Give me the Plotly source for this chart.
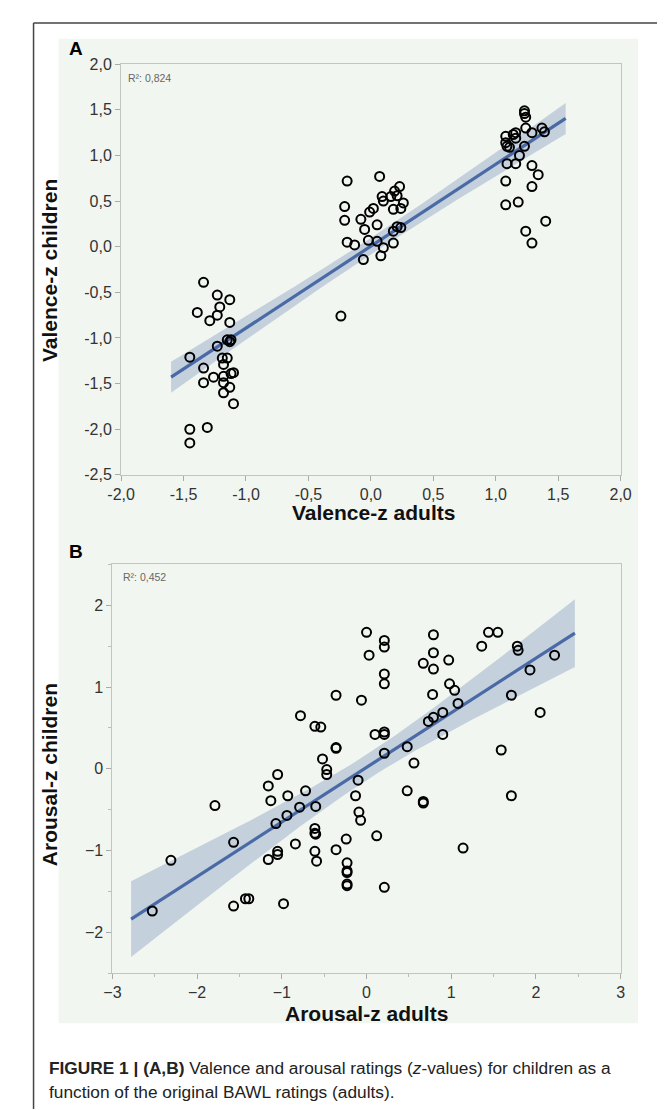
import numpy as np
import plotly.graph_objects as go

# ---------------- data ----------------
valence_adults = [
    -1.34, -1.23, -1.13, -1.21, -1.39, -1.23, -1.29, -1.13, -1.23, -1.15, -1.12, -1.13,
    -1.45, -1.19, -1.15, -1.18, -1.34, -1.26, -1.18, -1.12, -1.10, -1.34, -1.18, -1.13,
    -1.18, -1.10, -1.45, -1.31, -1.45,
    -0.19, 0.07, -0.21, -0.21, -0.08, -0.05, -0.01, 0.02, 0.05, 0.09, 0.10, 0.16, 0.19,
    0.21, 0.23, 0.26, 0.18, 0.24, 0.18, 0.21, 0.24, -0.19, -0.13, -0.02, 0.05, 0.10, 0.18,
    -0.06, 0.08, -0.24,
    1.23, 1.23, 1.24, 1.24, 1.16, 1.14, 1.08, 1.37, 1.39, 1.29, 1.08, 1.16, 1.09, 1.11,
    1.23, 1.19, 1.09, 1.16, 1.29, 1.34, 1.08, 1.29, 1.08, 1.18, 1.40, 1.24, 1.29,
]
valence_children = [
    -0.39, -0.53, -0.58, -0.66, -0.72, -0.75, -0.81, -0.83, -1.09, -1.02, -1.02, -1.04,
    -1.21, -1.22, -1.22, -1.29, -1.33, -1.43, -1.42, -1.39, -1.38, -1.49, -1.49, -1.54,
    -1.60, -1.72, -2.00, -1.98, -2.15,
    0.72, 0.77, 0.44, 0.29, 0.30, 0.19, 0.38, 0.42, 0.24, 0.55, 0.50, 0.55, 0.61,
    0.56, 0.66, 0.48, 0.41, 0.42, 0.17, 0.22, 0.21, 0.05, 0.02, 0.07, 0.06, -0.01, 0.04,
    -0.14, -0.10, -0.76,
    1.49, 1.46, 1.42, 1.30, 1.25, 1.23, 1.21, 1.30, 1.26, 1.25, 1.14, 1.19, 1.10, 1.09,
    1.10, 1.00, 0.91, 0.91, 0.89, 0.79, 0.72, 0.66, 0.46, 0.49, 0.28, 0.17, 0.04,
]

arousal_adults = [
    0.00, 0.21, 0.21, 0.03, 0.21, 0.21, -0.36, -0.06, -0.78, -0.61, -0.54, 0.10, 0.21,
    0.21, -0.36, -0.36, 0.21, -0.52, -0.47, -0.47, -1.05, -1.16, -0.10, -0.72, -0.93,
    -1.13, -0.13, -1.79, -0.79, -0.60, -0.94, -1.07, -0.09, -0.07, -0.61, -0.61, -0.60,
    -1.57, -0.84, -0.24, 0.12, -0.36, -0.61, -1.05,
    0.79, 0.79, 0.79, 0.67, 0.97, 0.98, 1.04, 1.08, 0.78, 0.90, 0.79, 0.73, 0.90, 0.48,
    0.56, 0.48, 0.67, 0.67, 1.14, 1.36, 1.44, 1.55, 1.78, 1.79, 1.93, 2.22, 1.71, 2.05,
    1.59, 1.71,
    -2.31, -2.53, -1.57, -1.43, -1.39, -0.98, -1.16, -1.05, -0.59, -0.23, -0.23, -0.23,
    -0.23, -0.23, 0.21,
]
arousal_children = [
    1.67, 1.57, 1.49, 1.39, 1.16, 1.04, 0.90, 0.84, 0.65, 0.52, 0.51, 0.42, 0.45,
    0.42, 0.26, 0.25, 0.19, 0.12, -0.01, -0.07, -0.07, -0.21, -0.14, -0.27, -0.33,
    -0.39, -0.33, -0.45, -0.47, -0.46, -0.57, -0.67, -0.53, -0.63, -0.73, -0.79, -0.80,
    -0.90, -0.92, -0.86, -0.82, -0.99, -1.01, -1.01,
    1.64, 1.42, 1.22, 1.29, 1.33, 1.04, 0.96, 0.80, 0.91, 0.69, 0.63, 0.58, 0.42, 0.27,
    0.07, -0.27, -0.40, -0.42, -0.97, 1.50, 1.67, 1.67, 1.50, 1.45, 1.21, 1.39, 0.90, 0.69,
    0.23, -0.33,
    -1.12, -1.74, -1.68, -1.59, -1.59, -1.65, -1.11, -1.05, -1.13, -1.15, -1.25, -1.27,
    -1.41, -1.43, -1.45,
]

valence_fit_range = [-1.60, 1.56]
arousal_fit_range = [-2.78, 2.46]

valence_r2_label = "R²: 0,824"
arousal_r2_label = "R²: 0,452"

valence_ticks = [-2.0, -1.5, -1.0, -0.5, 0.0, 0.5, 1.0, 1.5, 2.0]
valence_ticktext = ["-2,0", "-1,5", "-1,0", "-0,5", "0,0", "0,5", "1,0", "1,5", "2,0"]
valence_yticks = [-2.5, -2.0, -1.5, -1.0, -0.5, 0.0, 0.5, 1.0, 1.5, 2.0]
valence_yticktext = ["-2,5", "-2,0", "-1,5", "-1,0", "-0,5", "0,0", "0,5", "1,0", "1,5", "2,0"]
arousal_xticks = [-3, -2, -1, 0, 1, 2, 3]
arousal_yticks = [-2, -1, 0, 1, 2]

# ---------------- helpers ----------------
W, H = 665, 1110


def px(x):
    return x / W


def py(y):
    return 1 - y / H


def fit_band(x, y, xr, n=80):
    x = np.asarray(x, float)
    y = np.asarray(y, float)
    b, a = np.polyfit(x, y, 1)
    res = y - (a + b * x)
    k = len(x)
    s = np.sqrt(np.sum(res ** 2) / (k - 2))
    sxx = np.sum((x - x.mean()) ** 2)
    xs = np.linspace(xr[0], xr[1], n)
    ys = a + b * xs
    se = s * np.sqrt(1.0 / k + (xs - x.mean()) ** 2 / sxx)
    t = 1.99
    return xs, ys, ys - t * se, ys + t * se


LINE_C = "#4a6aa6"
BAND_C = "rgba(74,106,166,0.27)"
TICK_FONT = dict(family="Liberation Sans, Arial, sans-serif", size=16, color="#333")
TITLE_FONT = dict(family="Liberation Sans, Arial, sans-serif", size=21, color="#111")

fig = go.Figure()

for (xd, yd, xr, xa, ya) in [
    (valence_adults, valence_children, valence_fit_range, "x", "y"),
    (arousal_adults, arousal_children, arousal_fit_range, "x2", "y2"),
]:
    xs, ys, lo, hi = fit_band(xd, yd, xr)
    fig.add_trace(go.Scatter(x=np.concatenate([xs, xs[::-1]]), y=np.concatenate([hi, lo[::-1]]),
                             fill="toself", fillcolor=BAND_C, line=dict(width=0),
                             mode="lines", hoverinfo="skip", showlegend=False,
                             xaxis=xa, yaxis=ya))
    fig.add_trace(go.Scatter(x=xs, y=ys, mode="lines", line=dict(color=LINE_C, width=3.2),
                             showlegend=False, xaxis=xa, yaxis=ya))
    fig.add_trace(go.Scatter(x=xd, y=yd, mode="markers",
                             marker=dict(symbol="circle-open", size=9, color="#000",
                                         line=dict(width=2, color="#000")),
                             showlegend=False, xaxis=xa, yaxis=ya))

axis_common = dict(showgrid=False, zeroline=False, showline=True, linecolor="#c4c4c4",
                   linewidth=1.2, mirror=True, ticks="outside", ticklen=5, tickcolor="#aaa",
                   tickfont=TICK_FONT)

fig.update_layout(
    width=W, height=H, margin=dict(l=0, r=0, t=0, b=0),
    paper_bgcolor="white", plot_bgcolor="white",
    xaxis=dict(domain=[px(103), px(622)], range=[-2, 2], tickvals=valence_ticks,
               ticktext=valence_ticktext, anchor="y", **axis_common),
    yaxis=dict(domain=[py(466), py(49)], range=[-2.5, 2.0], tickvals=valence_yticks,
               ticktext=valence_yticktext, anchor="x", **axis_common),
    xaxis2=dict(domain=[px(94), px(622)], range=[-3, 3], tickvals=arousal_xticks,
                anchor="y2", minor=dict(ticks="outside", ticklen=3, tickcolor="#bbb", dtick=0.5, tick0=0),
                **axis_common),
    yaxis2=dict(domain=[py(972), py(557)], range=[-2.5, 2.5], tickvals=arousal_yticks,
                anchor="x2", minor=dict(ticks="outside", ticklen=3, tickcolor="#bbb", dtick=0.5, tick0=0),
                **axis_common),
)

shapes = [
    dict(type="rect", xref="paper", yref="paper", x0=px(38), x1=px(640), y0=py(1023), y1=py(23),
         fillcolor="#f2f6f0", line=dict(width=0), layer="below"),
    dict(type="line", xref="paper", yref="paper", x0=px(12), x1=1.0, y0=py(7), y1=py(7),
         line=dict(color="#444", width=1.5)),
    dict(type="line", xref="paper", yref="paper", x0=px(12), x1=px(12), y0=py(7), y1=0,
         line=dict(color="#444", width=1.5)),
]
fig.update_layout(shapes=shapes)

ann = []


def add_text(text, x, y, font, xanchor="center", yanchor="middle", angle=0):
    ann.append(dict(text=text, x=px(x), y=py(y), xref="paper", yref="paper", showarrow=False,
                    xanchor=xanchor, yanchor=yanchor, font=font, textangle=angle))


add_text("<b>A</b>", 47, 33, dict(family="Liberation Sans, Arial", size=19, color="#000"), xanchor="left")
add_text("<b>B</b>", 47, 544, dict(family="Liberation Sans, Arial", size=19, color="#000"), xanchor="left")
add_text(valence_r2_label, 108, 63, dict(family="Liberation Sans, Arial", size=10.5, color="#666"), xanchor="left")
add_text(arousal_r2_label, 103, 570, dict(family="Liberation Sans, Arial", size=10.5, color="#666"), xanchor="left")
add_text("<b>Valence-z adults</b>", 365, 504, TITLE_FONT)
add_text("<b>Valence-z children</b>", 28, 258, TITLE_FONT, angle=-90)
add_text("<b>Arousal-z adults</b>", 358, 1013, TITLE_FONT)
add_text("<b>Arousal-z children</b>", 28, 770, TITLE_FONT, angle=-90)

CAP_FONT = dict(family="Liberation Sans, Arial, sans-serif", size=17.3, color="#222")
add_text("<b>FIGURE 1 | (A,B)</b> Valence and arousal ratings (<i>z</i>-values) for children as a",
         26, 1068, CAP_FONT, xanchor="left")
add_text("function of the original BAWL ratings (adults).", 26, 1093, CAP_FONT, xanchor="left")
fig.update_layout(annotations=ann)

fig.write_html("out.html")
